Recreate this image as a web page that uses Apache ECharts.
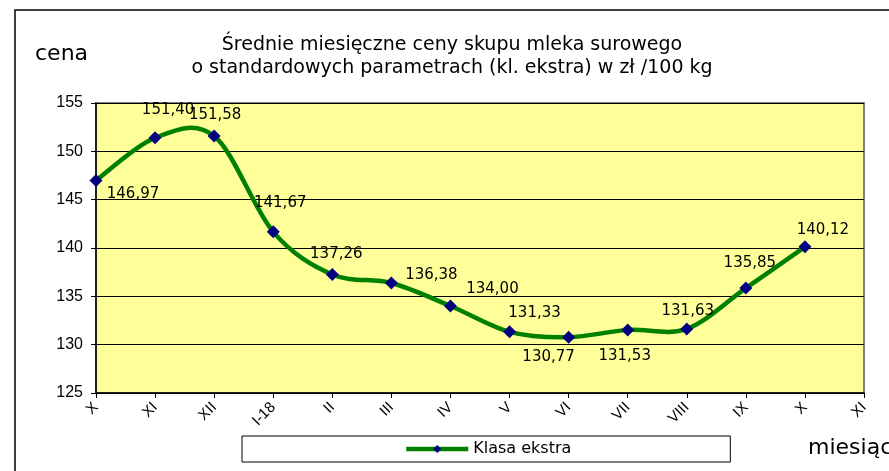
<!DOCTYPE html>
<html>
<head>
<meta charset="utf-8">
<script src="https://cdn.jsdelivr.net/npm/echarts@6/dist/echarts.min.js"></script>
<style>
html,body{margin:0;padding:0;background:#fff;}
#chart{width:889px;height:471px;}
</style>
</head>
<body>
<div id="chart"></div>
<script>
// ---- data ----
var categories = ['X','XI','XII','I-18','II','III','IV','V','VI','VII','VIII','IX','X','XI'];
var seriesName = 'Klasa ekstra';
var prices = [146.97,151.40,151.58,141.67,137.26,136.38,134.00,131.33,130.77,131.53,131.63,135.85,140.12,null];
var yTicks = [125,130,135,140,145,150,155];
var titleLines = ['Średnie miesięczne ceny skupu mleka surowego','o standardowych parametrach (kl. ekstra) w zł /100 kg'];
var yAxisTitle = 'cena';
var xAxisTitle = 'miesiąc';

// ---- label placement (style) ----
var labelOffsets = [[37,13],[13,-28],[1,-21],[7,-29],[4,-20],[40,-8],[42,-17],[25,-19],[-20,20],[-3,26],[1,-18],[4,-25],[18,-17],[0,0]];

var chart = echarts.init(document.getElementById('chart'));
var seriesData = prices.map(function(v,i){
  return {
    value: v,
    label: {show: v!=null, position: 'inside', offset: labelOffsets[i]}
  };
});

// Excel-like smoothed curve (Catmull-Rom -> cubic Bezier) through the data points, positioned via the axis scales
function renderCurve(params, api){
  var pts = [];
  for (var i = 0; i < prices.length; i++) {
    if (prices[i] != null) pts.push(api.coord([i, prices[i]]));
  }
  var children = [];
  for (var k = 0; k < pts.length - 1; k++) {
    var p0 = pts[k-1] || pts[k], p1 = pts[k], p2 = pts[k+1], p3 = pts[k+2] || pts[k+1];
    children.push({
      type: 'bezierCurve',
      shape: {
        x1: p1[0], y1: p1[1], x2: p2[0], y2: p2[1],
        cpx1: p1[0] + (p2[0]-p0[0])/6, cpy1: p1[1] + (p2[1]-p0[1])/6,
        cpx2: p2[0] - (p3[0]-p1[0])/6, cpy2: p2[1] - (p3[1]-p1[1])/6
      },
      style: {stroke: '#008000', lineWidth: 4.5, fill: null, lineCap: 'round', lineJoin: 'round'}
    });
  }
  return {type: 'group', children: children};
}

var option = {
  animation: false,
  backgroundColor: '#ffffff',
  grid: {left: 96, right: 25, top: 103, bottom: 78, show: true, backgroundColor: '#FFFF99', borderColor: '#808080', borderWidth: 2},
  graphic: [
    {type:'rect', shape:{x:15,y:10,width:900,height:520}, style:{fill:'none', stroke:'#000', lineWidth:1.5}, z:0, silent:true},
    {type:'text', x:452, y:34, style:{text: titleLines.join('\n'), textAlign:'center', textVerticalAlign:'top', font:'normal 19px "DejaVu Sans"', lineHeight:23, fill:'#000'}},
    {type:'text', x:35, y:54, style:{text: yAxisTitle, textAlign:'left', textVerticalAlign:'middle', font:'normal 22px "DejaVu Sans"', fill:'#000'}},
    {type:'text', x:808, y:448, style:{text: xAxisTitle, textAlign:'left', textVerticalAlign:'middle', font:'normal 22px "DejaVu Sans"', fill:'#000'}}
  ],
  legend: {
    data: [seriesName],
    left: 242, top: 436,
    padding: [5, 159, 5, 162],
    borderColor: '#000', borderWidth: 1, backgroundColor: '#fff',
    itemWidth: 62, itemHeight: 10,
    lineStyle: {color: '#008000', width: 4.5, opacity: 1},
    textStyle: {fontFamily: 'DejaVu Sans', fontSize: 16, color: '#000'}
  },
  xAxis: {
    type: 'category',
    data: categories,
    boundaryGap: false,
    axisLine: {lineStyle: {color: '#000', width: 1.5}},
    axisTick: {show: true, length: 5, lineStyle: {color: '#000'}},
    axisLabel: {rotate: 45, fontFamily: 'Liberation Sans', fontSize: 15, color: '#000', margin: 12, interval: 0},
    splitLine: {show: false}
  },
  yAxis: {
    type: 'value',
    min: yTicks[0], max: yTicks[yTicks.length-1], interval: 5,
    axisLine: {show: true, lineStyle: {color: '#000', width: 1.5}},
    axisTick: {show: true, length: 5, lineStyle: {color: '#000'}},
    axisLabel: {fontFamily: 'Liberation Sans', fontSize: 16, color: '#000', margin: 13},
    splitLine: {show: true, lineStyle: {color: '#000', width: 1}}
  },
  series: [{
    name: 'curve',
    type: 'custom',
    renderItem: renderCurve,
    data: [[0, prices[0]]],
    z: 2,
    silent: true,
    clip: true
  }, {
    name: seriesName,
    type: 'line',
    data: seriesData,
    symbol: 'diamond',
    symbolSize: 13,
    itemStyle: {color: '#000080'},
    lineStyle: {color: '#008000', width: 4.5, opacity: 0},
    label: {
      show: true,
      fontFamily: 'DejaVu Sans', fontSize: 15, color: '#000',
      formatter: function(p){ return p.value==null ? '' : p.value.toFixed(2).replace('.', ','); }
    },
    z: 3
  }]
};
chart.setOption(option);
</script>
</body>
</html>
